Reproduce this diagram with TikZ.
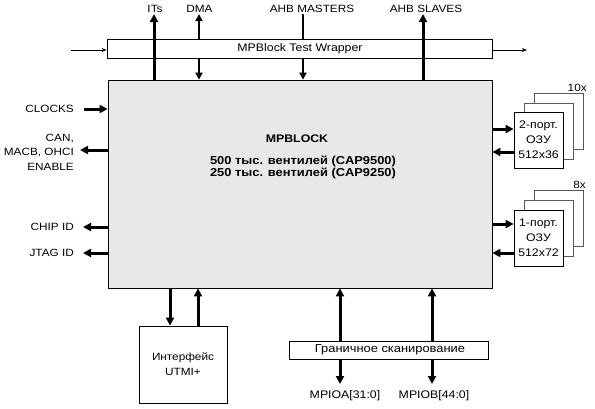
\documentclass[tikz,border=0pt]{standalone}
\usepackage{fontspec}
\setmainfont[FakeStretch=1.12]{Liberation Sans}
\usetikzlibrary{arrows.meta,calc}
\begin{document}
\begin{tikzpicture}[x=1pt,y=-1pt,
  every node/.style={font=\fontsize{10.5}{12}\selectfont, inner sep=1pt},
  box/.style={draw=black, line width=0.8pt, fill=white, inner sep=0pt},
  backbox/.style={draw=black!65, line width=0.8pt, fill=white, inner sep=0pt, minimum width=49pt, minimum height=56pt},
  ramtext/.style={font=\fontsize{11}{15}\selectfont, align=center},
  big/.style={line width=3pt, -{Triangle[length=8pt,width=8pt]}},
  mid/.style={line width=2pt, -{Triangle[length=7pt,width=7pt]}},
  thin/.style={line width=0.8pt, -{Stealth[length=5pt,width=4pt]}}
]
\useasboundingbox (0,0) rectangle (595,408);

% main block
\node[box, fill=black!9, minimum width=384pt, minimum height=208pt] (main) at (300,184) {};
\node[font=\bfseries\fontsize{11}{12}\selectfont] (title) at (297,139) {MPBLOCK};
\node[font=\bfseries\fontsize{11.5}{11.5}\selectfont, align=center] (gates) at (303,167.5)
  {500 тыс. вентилей (CAP9500)\\250 тыс. вентилей (CAP9250)};

% wrapper
\node[box, minimum width=385pt, minimum height=19pt] (wrap) at (299.5,48.5) {};
\node[font=\fontsize{11}{12}\selectfont] (wraptext) at (300,48.5) {MPBlock Test Wrapper};
\coordinate (win) at (71,50);
\coordinate (wout) at (527,50);
\draw[thin] (win) -- (win -| wrap.west);
\draw[thin] (wout -| wrap.east) -- (wout);

% top labels
\node[anchor=south] (its) at (155,14) {ITs};
\node[anchor=south] (dma) at (199.5,14) {DMA};
\node[anchor=south] (ahbm) at (312,14) {AHB MASTERS};
\node[anchor=south] (ahbs) at (426,14) {AHB SLAVES};
\coordinate (xits) at (154,0);
\coordinate (xdma) at (199,0);
\coordinate (xahbm) at (303,0);
\coordinate (xahbs) at (423,0);

\draw[big] (main.north -| xits) -- (its.south -| xits);
\draw[mid] (wrap.north -| xdma) -- (dma.south -| xdma);
\draw[mid] (wrap.south -| xdma) -- (main.north -| xdma);
\draw[line width=2pt] (ahbm.south -| xahbm) -- (wrap.north -| xahbm);
\draw[mid] (wrap.south -| xahbm) -- (main.north -| xahbm);
\draw[big] (main.north -| xahbs) -- (ahbs.south -| xahbs);

% left labels
\node[anchor=east] (clocks) at (75,109) {CLOCKS};
\node[anchor=east, align=right, font=\fontsize{10.5}{14.5}\selectfont] (can) at (75,152) {CAN,\\MACB, OHCI\\ENABLE};
\node[anchor=east] (chip) at (75,227) {CHIP ID};
\node[anchor=east] (jtag) at (75,253) {JTAG ID};
\coordinate (canc) at (80,150);

\draw[big] ([xshift=9pt]clocks.east) -- (clocks -| main.west);
\draw[big] (canc -| main.west) -- (canc);
\draw[big] (chip -| main.west) -- ([xshift=8pt]chip.east);
\draw[big] (jtag -| main.west) -- ([xshift=8pt]jtag.east);

% RAM stacks (2-port)
\node[backbox] (r2c) at (558.5,121) {};
\node[backbox] (r2b) at (548.5,131) {};
\node[box, minimum width=49pt, minimum height=56pt, ramtext] (r2) at (538.5,140) {2-порт.\\ОЗУ\\512x36};
\node[anchor=south east, inner sep=0.5pt] (n10) at ([xshift=4pt]r2c.north east) {10x};
\coordinate (r2in) at (0,129);
\coordinate (r2out) at (0,152);
\draw[big] (r2in -| main.east) -- (r2in -| r2.west);
\draw[big] (r2out -| r2.west) -- (r2out -| main.east);

% RAM stacks (1-port)
\node[backbox] (r1c) at (558.5,218) {};
\node[backbox] (r1b) at (548.5,228) {};
\node[box, minimum width=49pt, minimum height=56pt, ramtext] (r1) at (538.5,238) {1-порт.\\ОЗУ\\512x72};
\node[anchor=south east, inner sep=0.5pt] (n8) at ([xshift=3pt]r1c.north east) {8x};
\coordinate (r1in) at (0,224);
\coordinate (r1out) at (0,253);
\draw[big] (r1in -| main.east) -- (r1in -| r1.west);
\draw[big] (r1out -| r1.west) -- (r1out -| main.east);

% UTMI
\node[box, minimum width=88pt, minimum height=77pt, align=center, font=\fontsize{10.5}{15}\selectfont] (utmi) at (183,364.5) {Интерфейс\\UTMI+};
\coordinate (ua) at (170,0);
\coordinate (ub) at (198,0);
\draw[big] (main.south -| ua) -- (utmi.north -| ua);
\draw[big] (utmi.north -| ub) -- (main.south -| ub);

% boundary scan
\node[box, minimum width=199pt, minimum height=18pt] (scan) at (388.5,350) {};
\node[font=\fontsize{11.5}{12}\selectfont] (scantext) at (390,350) {Граничное сканирование};
\node[anchor=north, font=\fontsize{11}{12}\selectfont] (mpioa) at (345,389) {MPIOA[31:0]};
\node[anchor=north, font=\fontsize{11}{12}\selectfont] (mpiob) at (434,389) {MPIOB[44:0]};
\coordinate (xa) at (340,0);
\coordinate (xb) at (432,0);
\draw[big] (scan.north -| xa) -- (main.south -| xa);
\draw[big] (scan.south -| xa) -- ([yshift=5pt]mpioa.north -| xa);
\draw[big] (scan.north -| xb) -- (main.south -| xb);
\draw[big] (scan.south -| xb) -- ([yshift=5pt]mpiob.north -| xb);
\end{tikzpicture}
\end{document}
